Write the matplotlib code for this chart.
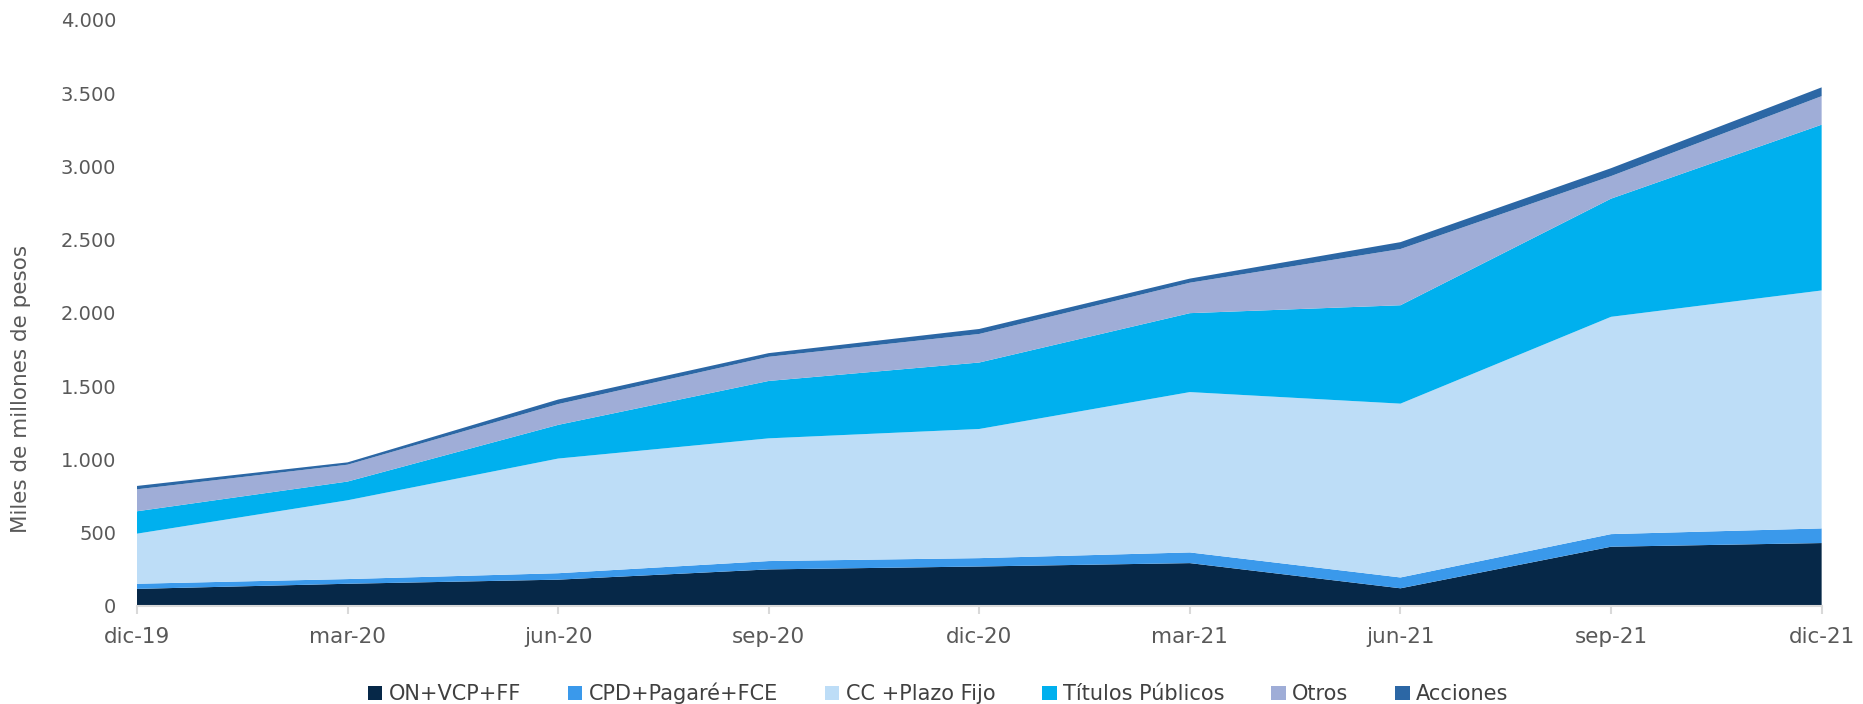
import matplotlib.pyplot as plt
from matplotlib.ticker import FuncFormatter

# ---------------- Data (miles de millones de pesos) ----------------
fechas = ["dic-19", "mar-20", "jun-20", "sep-20", "dic-20",
          "mar-21", "jun-21", "sep-21", "dic-21"]
on_vcp_ff = [115, 150, 178, 248, 268, 291, 119, 403, 428]
cpd_pagare_fce = [35, 32, 44, 57, 57, 73, 74, 86, 100]
cc_plazo_fijo = [342, 538, 783, 838, 882, 1095, 1187, 1484, 1625]
titulos_publicos = [153, 128, 230, 392, 454, 539, 672, 807, 1132]
otros = [150, 115, 142, 165, 195, 208, 384, 154, 195]
acciones = [23, 16, 31, 25, 34, 28, 47, 54, 60]

series = [on_vcp_ff, cpd_pagare_fce, cc_plazo_fijo, titulos_publicos, otros, acciones]
labels = ["ON+VCP+FF", "CPD+Pagaré+FCE", "CC +Plazo Fijo",
          "Títulos Públicos", "Otros", "Acciones"]
colors = ["#062848", "#3A99EB", "#BDDDF7", "#00B0EE", "#9FADD7", "#2C67A5"]

# ---------------- Chart ----------------
fig = plt.figure(figsize=(18.63, 7.04), dpi=100)
ax = fig.add_axes([0.0735, 0.1396, 0.9043, 0.832])

x = list(range(len(fechas)))
ax.stackplot(x, *series, labels=labels, colors=colors, linewidth=0)

ax.set_xlim(0, len(fechas) - 1)
ax.set_ylim(0, 4000)
ax.set_yticks(range(0, 4001, 500))
ax.yaxis.set_major_formatter(FuncFormatter(lambda v, p: f"{int(v):,}".replace(",", ".")))
ax.set_xticks(x)
ax.set_xticklabels(fechas)

for s in ["top", "right", "left"]:
    ax.spines[s].set_visible(False)
ax.spines["bottom"].set_color("#D9D9D9")
ax.spines["bottom"].set_linewidth(1.5)
ax.tick_params(axis="x", colors="#D9D9D9", length=6, width=1.5, labelsize=15.5,
               labelcolor="#595959", pad=9)
ax.tick_params(axis="y", length=0, labelsize=14, labelcolor="#595959", pad=15)

fig.text(0.0115, 0.447, "Miles de millones de pesos", rotation=90, ha="center", va="center",
         fontsize=15.5, color="#595959")

fig.legend(*ax.get_legend_handles_labels(), loc="center", bbox_to_anchor=(0.5035, 0.015),
           bbox_transform=fig.transFigure, ncol=6, frameon=False, fontsize=15,
           handlelength=0.7, handleheight=0.7, handletextpad=0.3, columnspacing=2.25,
           labelcolor="#404040", borderpad=0, borderaxespad=0)

fig.savefig("out.png", dpi=100)
